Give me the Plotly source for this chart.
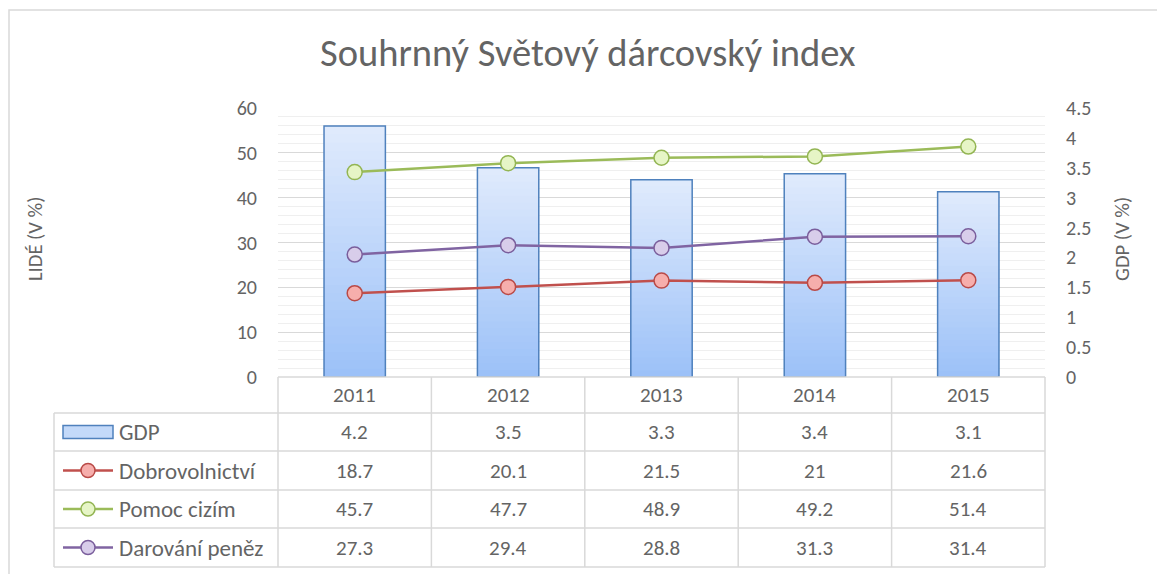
import plotly.graph_objects as go

# ---- data ----
years = ["2011", "2012", "2013", "2014", "2015"]
gdp = [4.2, 3.5, 3.3, 3.4, 3.1]
dobrovolnictvi = [18.7, 20.1, 21.5, 21, 21.6]
pomoc_cizim = [45.7, 47.7, 48.9, 49.2, 51.4]
darovani_penez = [27.3, 29.4, 28.8, 31.3, 31.4]

title_text = "Souhrnný Světový dárcovský index"
left_title = "LIDÉ (V %)"
right_title = "GDP (V %)"

line_series = [
    ("Dobrovolnictví", dobrovolnictvi, "#c0504d", "#f6aeac", "#b94a47"),
    ("Pomoc cizím", pomoc_cizim, "#9bbb59", "#e6f5c6", "#93b553"),
    ("Darování peněz", darovani_penez, "#8064a2", "#d8cdea", "#7a5e9c"),
]

# ---- layout geometry (pixels) ----
W, H = 1157, 574
L, R, T, B = 278, 1045, 108, 377
FONT = "Carlito, Calibri, Lato, sans-serif"
TXT = "#646464"
GRID = "#d9d9d9"


def xp(px):
    return (px - L) / (R - L)


def yp(py):
    return (B - py) / (B - T)


ncat = len(years)
col_w = (R - L) / ncat
col_centers = [xp(L + (i + 0.5) * col_w) for i in range(ncat)]

fig = go.Figure()

# gradient bars (layered)
N = 30
top_c = (0xdf, 0xea, 0xfc)
bot_c = (0x9a, 0xc0, 0xf8)
for i in range(N):
    f = i / N
    c = tuple(round(top_c[k] + (bot_c[k] - top_c[k]) * f) for k in range(3))
    fig.add_trace(go.Bar(
        x=years, y=[v * (1 - f) for v in gdp], width=0.4,
        marker=dict(color="rgb(%d,%d,%d)" % c, line=dict(width=0)),
        showlegend=False, hoverinfo="skip", yaxis="y", xaxis="x"))
fig.add_trace(go.Bar(
    x=years, y=gdp, width=0.4, name="GDP",
    marker=dict(color="rgba(0,0,0,0)", line=dict(color="#4f81bd", width=1.5)),
    showlegend=False, yaxis="y", xaxis="x"))

for name, vals, lc, mfill, mline in line_series:
    fig.add_trace(go.Scatter(
        x=years, y=vals, name=name, mode="lines+markers", yaxis="y2",
        line=dict(color=lc, width=2.5),
        marker=dict(size=15, color=mfill, line=dict(color=mline, width=1.5)),
        showlegend=False))

shapes = []
# outer border
shapes.append(dict(type="rect", xref="paper", yref="paper",
                   x0=xp(9), x1=xp(1200), y0=yp(10), y1=yp(620),
                   line=dict(color="#d9d9d9", width=1.5), fillcolor="rgba(0,0,0,0)", layer="below"))

# table grid
tl = dict(color="#d9d9d9", width=1.5)
row_lines = [413, 451, 490, 528, 567]
shapes.append(dict(type="line", xref="paper", yref="paper", x0=xp(L), x1=xp(R),
                   y0=yp(377), y1=yp(377), line=tl))
for ry in row_lines:
    shapes.append(dict(type="line", xref="paper", yref="paper", x0=xp(54), x1=xp(R),
                       y0=yp(ry), y1=yp(ry), line=tl))
shapes.append(dict(type="line", xref="paper", yref="paper", x0=xp(54), x1=xp(54),
                   y0=yp(413), y1=yp(567), line=tl))
for k in range(ncat + 1):
    shapes.append(dict(type="line", xref="paper", yref="paper", x0=xp(L + k * col_w),
                       x1=xp(L + k * col_w), y0=yp(377), y1=yp(567), line=tl))

# legend icons in table
row_centers = [432, 470.5, 509, 547.5]
shapes.append(dict(type="rect", xref="paper", yref="paper", x0=xp(63), x1=xp(113),
                   y0=yp(425.5), y1=yp(438.5), fillcolor="#c3d9f9",
                   line=dict(color="#4f81bd", width=1.5)))
for (name, vals, lc, mfill, mline), cy in zip(line_series, row_centers[1:]):
    shapes.append(dict(type="line", xref="paper", yref="paper", x0=xp(63), x1=xp(113),
                       y0=yp(cy), y1=yp(cy), line=dict(color=lc, width=2.5)))
    shapes.append(dict(type="circle", xref="paper", yref="paper", x0=xp(81), x1=xp(95),
                       y0=yp(cy - 7), y1=yp(cy + 7), fillcolor=mfill,
                       line=dict(color=mline, width=1.5)))

annotations = []
annotations.append(dict(text=title_text, xref="paper", yref="paper", x=xp(588), y=yp(52),
                        xanchor="center", yanchor="middle", showarrow=False,
                        font=dict(size=38.5, color=TXT, family=FONT)))
annotations.append(dict(text=left_title, xref="paper", yref="paper", x=xp(35), y=yp(239),
                        textangle=-90, xanchor="center", yanchor="middle", showarrow=False,
                        font=dict(size=20.5, color=TXT, family=FONT)))
annotations.append(dict(text=right_title, xref="paper", yref="paper", x=xp(1122), y=yp(239),
                        textangle=-90, xanchor="center", yanchor="middle", showarrow=False,
                        font=dict(size=20.5, color=TXT, family=FONT)))
for yr, cx in zip(years, col_centers):
    annotations.append(dict(text=yr, xref="paper", yref="paper", x=cx, y=yp(395),
                            xanchor="center", yanchor="middle", showarrow=False,
                            font=dict(size=21, color=TXT, family=FONT)))
row_names = ["GDP"] + [s[0] for s in line_series]
row_vals = [gdp] + [s[1] for s in line_series]
for nm, vals, cy in zip(row_names, row_vals, row_centers):
    annotations.append(dict(text=nm, xref="paper", yref="paper", x=xp(117), y=yp(cy),
                            xanchor="left", yanchor="middle", showarrow=False,
                            font=dict(size=23, color=TXT, family=FONT)))
    for v, cx in zip(vals, col_centers):
        annotations.append(dict(text=f"{v:g}", xref="paper", yref="paper", x=cx, y=yp(cy),
                                xanchor="center", yanchor="middle", showarrow=False,
                                font=dict(size=21, color=TXT, family=FONT)))

fig.update_layout(
    width=W, height=H,
    margin=dict(l=L, r=W - R, t=T, b=H - B, pad=0),
    paper_bgcolor="white", plot_bgcolor="white",
    barmode="overlay", showlegend=False,
    font=dict(family=FONT, color=TXT, size=20),
    xaxis=dict(type="category", range=[-0.5, ncat - 0.5], showticklabels=False,
               showgrid=False, zeroline=False, showline=False, ticks=""),
    yaxis=dict(side="right", range=[0, 4.5], dtick=0.5, showgrid=False,
               zeroline=False, showline=False, ticks="", ticklabelstandoff=20,
               tickfont=dict(size=20, color=TXT, family=FONT)),
    yaxis2=dict(side="left", overlaying="y", range=[0, 60], dtick=10,
                showgrid=True, gridcolor=GRID, gridwidth=1,
                minor=dict(dtick=2, showgrid=True, gridcolor="#efefef", gridwidth=1),
                zeroline=False, showline=False, ticks="", ticklabelstandoff=20,
                tickfont=dict(size=20, color=TXT, family=FONT)),
    shapes=shapes, annotations=annotations,
)

fig.write_html("out.html", config={"displayModeBar": False},
               post_script="document.body.style.margin='0';")
